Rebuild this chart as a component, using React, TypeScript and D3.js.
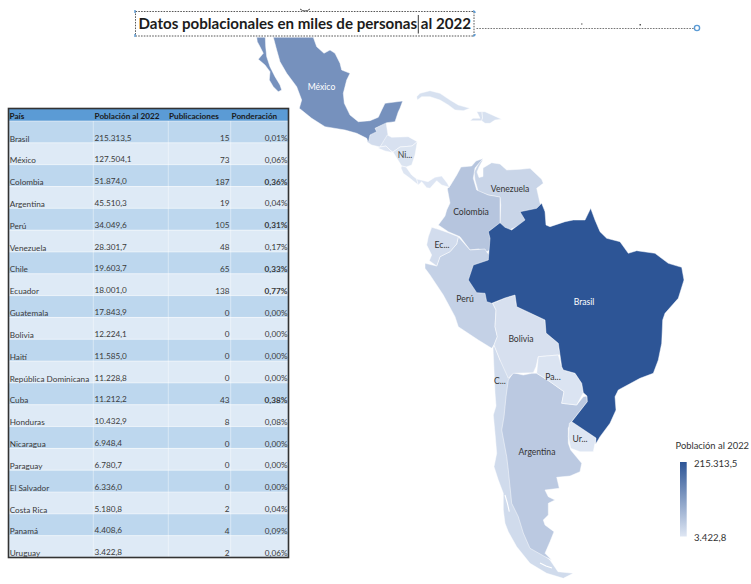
import React from "react";
import * as d3 from "d3";

// Table and choropleth values: population in thousands, 2022
const paises = ["Brasil","México","Colombia","Argentina","Perú","Venezuela","Chile","Ecuador","Guatemala","Bolivia","Haití","República Dominicana","Cuba","Honduras","Nicaragua","Paraguay","El Salvador","Costa Rica","Panamá","Uruguay"];
const poblacion = [215313.5,127504.1,51874.0,45510.3,34049.6,28301.7,19603.7,18001.0,17843.9,12224.1,11585.0,11228.8,11212.2,10432.9,6948.4,6780.7,6336.0,5180.8,4408.6,3422.8];
const publicaciones = [15,73,187,19,105,48,65,138,0,0,0,0,43,8,0,0,0,2,4,2];
const ponderacion = [0.01,0.06,0.36,0.04,0.31,0.17,0.33,0.77,0,0,0,0,0.38,0.08,0,0,0,0.04,0.09,0.06];
const encabezados = ["País","Población al 2022","Publicaciones","Ponderación"];

// Country outlines in a planar map grid (origin at 0,0 of the grid; one unit per screen pixel at scale 1)
const bajaCalifornia = [[-143.3,-162.7],[-134.7,-162.7],[-134.3,-153.3],[-133.3,-143.3],[-130,-133.3],[-125,-123.3],[-120,-115],[-118.3,-110],[-121.7,-108.3],[-126.7,-113.3],[-130.7,-120],[-130,-128.3],[-135,-135],[-141.7,-140.7],[-136.7,-146.7],[-140,-153.3],[-142.7,-158.3]];
const mexicoContinental = [[-126.7,-162.7],[-86.7,-162.7],[-83.3,-153.3],[-76,-146.7],[-70,-150],[-65,-146.7],[-60,-136.7],[-58.3,-130],[-50,-126.7],[-53.3,-120],[-56.7,-106.7],[-55.7,-96.7],[-50,-85],[-41.7,-78.3],[-30,-79.3],[-21.7,-82.7],[-18.3,-90],[-15,-96.7],[2.7,-99],[0,-91.7],[-1.7,-88.3],[-5,-78.3],[-13.3,-77.3],[-25,-71.7],[-23.3,-68.3],[-30,-65],[-31.7,-57.3],[-33.3,-61.7],[-43.3,-66.7],[-55,-70],[-75,-73.3],[-88.3,-81.7],[-100.7,-91.7],[-98.3,-100],[-103.3,-113.3],[-113.3,-126.7],[-120,-138.3],[-123.3,-150]];
const guatemala = [[-25,-72],[-14,-78],[-12,-65],[-12.5,-62],[-20,-53],[-28.3,-55],[-33,-58],[-31,-66]];
const honduras = [[-12.7,-65],[-8.3,-62.7],[8.3,-63.3],[17.3,-58.3],[12,-54],[0,-53],[-7,-48],[-10,-50],[-14,-54],[-20,-53]];
const elSalvador = [[-20,-53],[-14,-54],[-10,-50],[-7.5,-47.5],[-15,-49],[-22,-52]];
const nicaragua = [[0,-53],[12,-54],[17.3,-58.3],[15,-45],[11.7,-35],[6,-33],[1.7,-34],[-7,-48]];
const costaRica = [[1.7,-34],[6,-33],[11.7,-25],[16.7,-21],[18.3,-15],[10,-21.7],[3.3,-26.7],[1,-32]];
const panama = [[16.7,-21],[21,-20],[28,-18.3],[35,-22.7],[41.7,-24],[47.3,-16.7],[49.3,-12.7],[41.7,-15],[36.7,-19.3],[30,-11.7],[26.7,-12.3],[21.7,-18.3],[18.3,-15]];
const cuba = [[16.7,-103.3],[20,-106.7],[30,-109.3],[40,-106.7],[50,-100],[58.3,-95],[70,-91.7],[63.3,-89.3],[55,-90],[48.3,-95],[40,-100],[30,-103.3],[21.7,-103.3],[17.3,-100]];
const haiti = [[76.7,-88.3],[82,-88.3],[82.5,-82],[82,-79],[81.7,-79.3],[70,-79.3],[73,-81.7],[80,-81.7],[78,-86]];
const dominicana = [[82,-88.3],[85,-88.3],[101.7,-80.7],[95,-80],[90,-76.7],[85,-76.7],[81.7,-79.3],[82.5,-82]];
const venezuela = [[78.3,-8.3],[75,-20],[74,-28],[80,-39],[83,-40.3],[79,-33],[77,-28],[79,-22.5],[83,-23.5],[83,-32],[91.7,-37.3],[100,-36],[106.7,-30],[120,-30.7],[130,-31.7],[141.7,-20.7],[143.3,-16.7],[136.7,-11.7],[140,3],[145,10],[120,25],[105,32],[100,22.7],[100.7,5],[100,-2.7],[88.3,-5]];
const colombia = [[83,-41.5],[76,-39],[71.7,-34],[61,-33],[56.7,-25],[50,-14],[47.3,-11.3],[50,3],[46.7,10],[45,16],[38.3,25],[48.3,31.7],[60,36.7],[70,50],[78.3,49],[86.7,51.7],[90,50],[95,45],[95,35],[100,23],[100,-3],[88.3,-5],[76.7,-10],[73.3,-21.7],[75,-32]];
const peru = [[25,63.3],[36.7,66],[40,56.7],[50,51.7],[56.7,44],[58.3,36.7],[70,50],[85,49],[87.7,53.3],[95,60],[95,100],[92.7,103.3],[96,110],[95,126.7],[97.3,136.7],[94,145],[91.7,148.3],[78.3,140],[58.3,126.7],[55,116.7],[43.3,95],[30,75],[25,68.3]];
const ecuador = [[31.7,27.3],[38.3,29.3],[48.3,32.7],[58.3,36.7],[56.7,44],[50,51.7],[40,56.7],[36.7,66],[29.3,60.7],[31.7,55],[26.7,45],[28.3,36.7]];
const chile = [[93,148],[94,170],[95,193],[96,206],[93.3,215],[95,233.3],[96.7,253.3],[94,266.7],[98.3,280],[103.3,293.3],[103.3,310],[105,323.3],[108.3,331.7],[116.7,346.7],[130,363.3],[146.7,373.3],[163.3,378.3],[173.3,373.3],[158,371.7],[150,360],[145,356],[130,340],[120,310],[110,250],[110,180],[108,170],[100,160],[94,145]];
const argentina = [[113.3,172.7],[123.3,175],[131.7,173.3],[136.7,173.3],[150,181.7],[164,191.7],[161.7,203.3],[176.7,205],[183.3,196.7],[187,196],[187.3,201.7],[171.7,221.7],[168.3,228.3],[168.3,243.3],[170.7,250],[181.7,263.3],[180,271.7],[170,276],[156.7,277.3],[159.3,288.3],[145,290],[148.3,296.7],[155,300],[148.3,303.3],[148.3,315],[143.3,320],[145,325],[154,331.7],[150,341.7],[145,353.3],[151.7,360],[145,356.7],[130,348.3],[123.3,333],[118.3,316.7],[111.7,303.3],[110,286.7],[108.3,270],[106.7,256.7],[101.7,230],[104,216.7],[105,206.7],[106,196.7],[108.3,180]];
const bolivia = [[92.7,103.3],[105,98],[115,95],[116.7,106.7],[145,120],[146,133],[158.3,143.3],[160,155],[158.3,155],[138.3,156.7],[136,166.7],[133.3,172.7],[113.3,173.3],[108.3,178.3],[100,160],[94,145],[97.3,136.7],[95,126.7],[96,110]];
const paraguay = [[136.7,173.3],[138.3,156.7],[158.3,155],[161.7,166.7],[163.3,170],[175,173.3],[181.7,183.3],[183.3,192.7],[176.7,205],[161.7,203.3],[164,191.7],[150,181.7]];
const uruguay = [[169.3,223.3],[171.7,221.7],[196,238],[195,243.3],[193.3,251.7],[180,251.7],[170.7,248.3],[168.3,236.7]];
const brasil = [[100,22.7],[105,27.3],[111.7,30],[125,20],[120,11.7],[136.7,8.3],[141.7,3.3],[145,11.7],[146,25],[150,26.7],[165,21.7],[173.3,20],[185,20],[190.7,8.3],[195,20],[200,31.7],[206.7,38.3],[220,41.7],[228.3,53.3],[236.7,50.7],[255,53.3],[268.3,63.3],[281.7,67.3],[284,80],[278.3,98.3],[265,113.3],[262.7,120],[261.7,143.3],[258.3,160],[253.3,173.3],[240,178.3],[218.3,190],[215,196.7],[216,210],[210,223.3],[200,236.7],[195.7,244],[196,238],[171.7,221.7],[187.3,201.7],[187,196],[183.3,192.7],[181.7,183.3],[175,173.3],[163.3,170],[161.7,166.7],[160,155],[158.3,143.3],[146,133],[145,120],[116.7,106.7],[115,95],[105,98],[91.7,103.3],[86.7,101.7],[85,93.3],[76.7,92.7],[68.3,80],[73.3,65],[88.3,60],[90,38.3],[88.3,31.7]];
const canalesAustrales = [[[105,295],[107.3,303],[109.3,311.7]],[[140,363],[146,366],[152,368]]];

// Painter's order: later countries define the shared frontier
const capas: [string, number[][][]][] = [
  ["Venezuela",[venezuela]],["Colombia",[colombia]],["Perú",[peru]],["Ecuador",[ecuador]],["Chile",[chile]],
  ["Argentina",[argentina]],["Bolivia",[bolivia]],["Paraguay",[paraguay]],["Uruguay",[uruguay]],["Brasil",[brasil]],
  ["Guatemala",[guatemala]],["Honduras",[honduras]],["El Salvador",[elSalvador]],["Nicaragua",[nicaragua]],
  ["Costa Rica",[costaRica]],["Panamá",[panama]],["México",[mexicoContinental,bajaCalifornia]],
  ["Cuba",[cuba]],["Haití",[haiti]],["República Dominicana",[dominicana]],
];

// Country names written on the map, with their anchor in the grid
const rotulos: [string, number, number, string][] = [
  ["México",-78.5,-113,"#fff"],["Ni...",5,-45,"#444"],["Venezuela",110,-11,"#333"],["Colombia",71,12,"#333"],
  ["Ec...",42,45,"#333"],["Perú",65,99,"#333"],["Brasil",184,102,"#fff"],["Bolivia",121,139,"#333"],
  ["C...",100,181,"#333"],["Pa...",153,177,"#333"],["Ur...",180,239,"#333"],["Argentina",137,252,"#333"],
];

const W = 751, H = 584;
const fuente = "Lato, 'Open Sans', sans-serif";

const es = d3.formatLocale({ decimal: ",", thousands: ".", grouping: [3], currency: ["", ""] });
const fmtPob = es.format(",.1f");
const fmtPct = es.format(".2f");

const colorPob = d3.scaleLinear<string>()
  .domain([d3.min(poblacion)!, d3.max(poblacion)!])
  .range(["#DEE6F3", "#2D5596"])
  .interpolate(d3.interpolateRgb);

const proyeccion = d3.geoIdentity().translate([400, 200]);
const trazo = d3.geoPath(proyeccion as any);

const filaY = d3.scaleBand<string>().domain(paises).range([121, 557.5]);
const columnas = [8.5, 93.3, 168.3, 230.7, 288.5];

export default function App() {
  const alto = filaY.bandwidth();
  return (
    <svg width={W} height={H} viewBox={`0 0 ${W} ${H}`}
      style={{ position: "absolute", left: 0, top: 0, display: "block", background: "#fff" }}
      fontFamily={fuente}>
      <defs>
        <linearGradient id="rampa" x1="0" y1="0" x2="0" y2="1">
          <stop offset="0" stopColor={colorPob(d3.max(poblacion)!)} />
          <stop offset="1" stopColor={colorPob(d3.min(poblacion)!)} />
        </linearGradient>
      </defs>

      {/* Map */}
      <g stroke="#fff" strokeOpacity={0.6} strokeWidth={0.8} strokeLinejoin="round">
        {capas.map(([pais, anillos]) => (
          <path key={pais}
            d={trazo({ type: "MultiPolygon", coordinates: anillos.map(a => [[...a, a[0]]]) } as any)!}
            fill={colorPob(poblacion[paises.indexOf(pais)])} />
        ))}
      </g>
      <path d={trazo({ type: "MultiLineString", coordinates: canalesAustrales } as any)!}
        fill="none" stroke="#fff" strokeWidth={1.1} />
      {rotulos.map(([t, x, y, c]) => {
        const [px, py] = proyeccion([x, y] as any) as number[];
        return <text key={t} x={px} y={py + 3} textAnchor="middle" fontSize={8.6} fill={c}>{t}</text>;
      })}

      {/* Table */}
      <rect x={columnas[0]} y={109} width={columnas[4] - columnas[0]} height={12} fill="#5B9BD5" />
      {paises.map((p, i) => (
        <rect key={p} x={columnas[0]} y={filaY(p)!} width={columnas[4] - columnas[0]} height={alto}
          fill={i % 2 === 0 ? "#BDD7EE" : "#DEEAF6"} />
      ))}
      {columnas.slice(1, 4).map(x => (
        <line key={x} x1={x} x2={x} y1={121} y2={557.5} stroke="#fff" strokeOpacity={0.6} strokeWidth={0.7} />
      ))}
      {paises.map(p => (
        <line key={p} x1={columnas[0]} x2={columnas[4]} y1={filaY(p)!} y2={filaY(p)!} stroke="#fff" strokeOpacity={0.7} strokeWidth={0.7} />
      ))}
      <g fontSize={8.2} fontWeight={700} fill="#1a1a1a">
        <text x={9.5} y={118.5}>{encabezados[0]}</text>
        <text x={94.5} y={118.5}>{encabezados[1]}</text>
        <text x={169} y={118.5}>{encabezados[2]}</text>
        <text x={231.5} y={118.5}>{encabezados[3]}</text>
      </g>
      <g fontSize={8.2} fill="#3a3a3a">
        {paises.map((p, i) => {
          const y = filaY(p)!;
          return (
            <g key={p}>
              <text x={9.7} y={y + 20.5}>{p}</text>
              <text x={94.5} y={y + 19.5}>{fmtPob(poblacion[i])}</text>
              <text x={229.5} y={y + 20} textAnchor="end">{publicaciones[i]}</text>
              <text x={287.5} y={y + 20} textAnchor="end" fontWeight={ponderacion[i] >= 0.3 ? 700 : 400}>
                {fmtPct(ponderacion[i])}%
              </text>
            </g>
          );
        })}
      </g>
      <rect x={columnas[0]} y={108.5} width={columnas[4] - columnas[0]} height={449} fill="none" stroke="#333" strokeWidth={1.6} />

      {/* Title in its selected text box */}
      <rect x={135.5} y={11.5} width={338.5} height={24.5} fill="none" stroke="#444" strokeWidth={0.9} strokeDasharray="1.6 1.2" />
      <line x1={476.5} x2={694} y1={28.5} y2={28.5} stroke="#666" strokeWidth={0.9} strokeDasharray="1.6 1.2" />
      <g fill="none" stroke="#5B9BD5" strokeWidth={1.4}>
        <path d="M135 10 v3 M135 34 v3 M473 11 q2 0 2 2 M473 36 q2 0 2 -2" />
        <circle cx={697} cy={28} r={2.6} />
      </g>
      <path d="M300 9 q5 4 10 0" fill="none" stroke="#555" strokeWidth={1} />
      <rect x={581} y={23.5} width={1.5} height={1} fill="#555" />
      <rect x={639.5} y={24} width={1.5} height={1.5} fill="#555" />
      <text x={138.5} y={29.3} fontSize={15.4} fontWeight={700} fill="#1c1c1c" textLength={332.5} lengthAdjust="spacingAndGlyphs">
        Datos poblacionales en miles de personas al 2022
      </text>
      <line x1={418.3} x2={418.3} y1={15} y2={33.5} stroke="#222" strokeWidth={0.9} />

      {/* Colour legend */}
      <text x={675.5} y={449} fontSize={9.4} fill="#333">{encabezados[1]}</text>
      <rect x={680} y={462} width={6.7} height={74.5} fill="url(#rampa)" />
      <text x={694} y={466.5} fontSize={9.6} fill="#333">{fmtPob(d3.max(poblacion)!)}</text>
      <text x={694} y={540.5} fontSize={9.6} fill="#333">{fmtPob(d3.min(poblacion)!)}</text>
    </svg>
  );
}
